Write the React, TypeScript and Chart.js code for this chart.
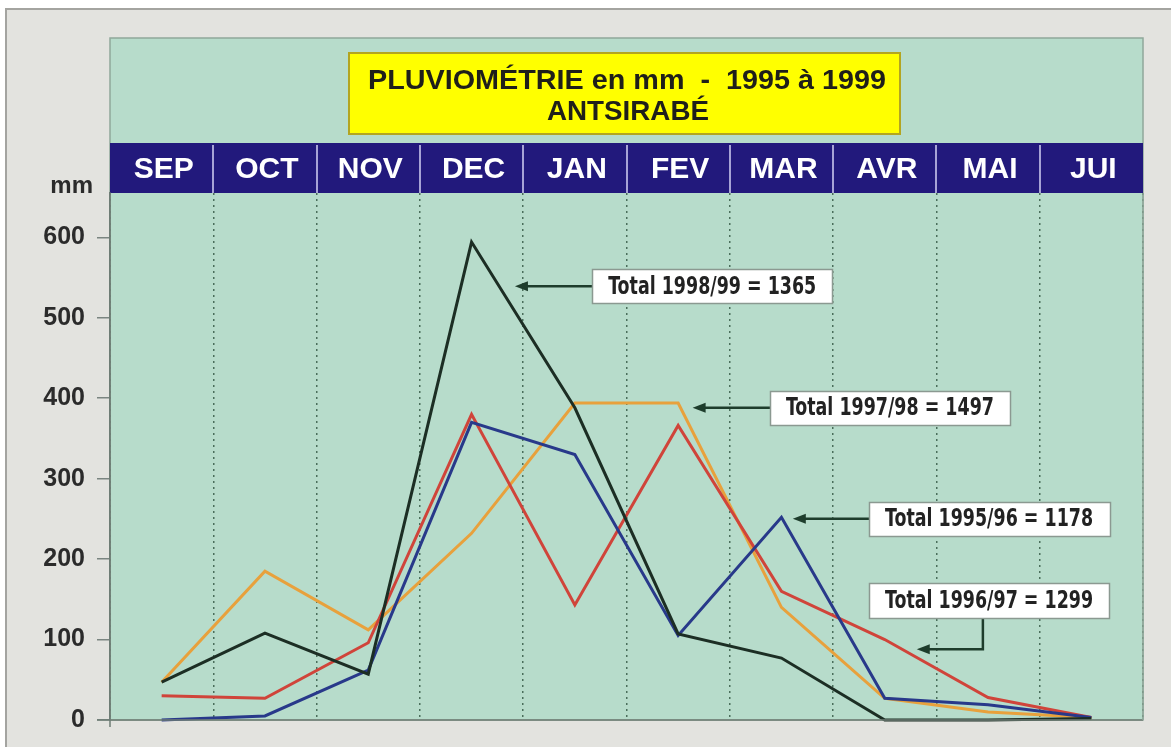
import React, { useEffect, useRef } from 'react';
import { Chart, registerables } from 'chart.js';

Chart.register(...registerables);

const MONTHS = ['SEP', 'OCT', 'NOV', 'DEC', 'JAN', 'FEV', 'MAR', 'AVR', 'MAI', 'JUI'];
const RAIN_1998_99 = [47, 108, 57, 594, 388, 107, 77, 0, 0, 2];
const RAIN_1995_96 = [0, 5, 62, 370, 330, 105, 252, 27, 19, 3];
const RAIN_1996_97 = [30, 27, 96, 380, 143, 366, 160, 100, 28, 3];
const RAIN_1997_98 = [47, 185, 112, 232, 394, 394, 140, 27, 10, 3];
const Y_TICKS = [0, 100, 200, 300, 400, 500, 600];
const TOTAL_LABELS = ['Total 1998/99 = 1365', 'Total 1997/98 = 1497', 'Total 1995/96 = 1178', 'Total 1996/97 = 1299'];
const TITLE_LINES = ['PLUVIOMÉTRIE en mm  -  1995 à 1999', 'ANTSIRABÉ'];

const W = 1171;
const H = 747;
const TEAL = '#b7dccb';
const GRAY = '#e3e3df';
const NAVY = '#22197c';

// annotation layout (index / value space of the scales)
const ANNOTS = [
  { text: TOTAL_LABELS[0], cx: 5.33, cy: 539, w: 240, h: 34, tipX: 3.42, tipY: 539, bend: null as null | { x: number; y: number } },
  { text: TOTAL_LABELS[1], cx: 7.05, cy: 388, w: 240, h: 34, tipX: 5.14, tipY: 388, bend: null },
  { text: TOTAL_LABELS[2], cx: 8.01, cy: 250, w: 241, h: 34, tipX: 6.11, tipY: 250, bend: null },
  { text: TOTAL_LABELS[3], cx: 8.01, cy: 149, w: 240, h: 35, tipX: 7.31, tipY: 88, bend: { x: 7.95, y: 88 } },
];

function fitText(ctx: CanvasRenderingContext2D, text: string, cx: number, cy: number, targetW: number) {
  const m = ctx.measureText(text).width;
  const s = targetW / m;
  ctx.save();
  ctx.translate(cx, cy);
  ctx.scale(s, 1);
  ctx.textAlign = 'center';
  ctx.textBaseline = 'middle';
  ctx.fillText(text, 0, 0);
  ctx.restore();
}

function arrowHead(ctx: CanvasRenderingContext2D, fx: number, fy: number, tx: number, ty: number) {
  const ang = Math.atan2(ty - fy, tx - fx);
  const len = 13;
  const hw = 5;
  ctx.beginPath();
  ctx.moveTo(tx, ty);
  ctx.lineTo(tx - len * Math.cos(ang) + hw * Math.sin(ang), ty - len * Math.sin(ang) - hw * Math.cos(ang));
  ctx.lineTo(tx - len * Math.cos(ang) - hw * Math.sin(ang), ty - len * Math.sin(ang) + hw * Math.cos(ang));
  ctx.closePath();
  ctx.fill();
}

const decorPlugin = {
  id: 'decor',
  beforeDraw(chart: any) {
    const { ctx, chartArea: ca, scales } = chart;
    const xs = scales.x;
    ctx.save();
    ctx.fillStyle = '#ffffff';
    ctx.fillRect(0, 0, W, H);
    ctx.fillStyle = GRAY;
    ctx.fillRect(5, 8, W - 5, H - 8);
    ctx.strokeStyle = '#a4a4a0';
    ctx.lineWidth = 2;
    ctx.beginPath();
    ctx.moveTo(5, 9);
    ctx.lineTo(W, 9);
    ctx.moveTo(6, 8);
    ctx.lineTo(6, H);
    ctx.stroke();

    // teal panel
    const tealTop = 38;
    ctx.fillStyle = TEAL;
    ctx.fillRect(ca.left, tealTop, ca.right - ca.left, ca.bottom - tealTop);
    ctx.strokeStyle = '#90a89b';
    ctx.lineWidth = 1.5;
    ctx.strokeRect(ca.left, tealTop, ca.right - ca.left, ca.bottom - tealTop);

    // title box
    ctx.fillStyle = '#ffff00';
    ctx.fillRect(349, 53, 551, 81);
    ctx.strokeStyle = '#b3a520';
    ctx.lineWidth = 2;
    ctx.strokeRect(349, 53, 551, 81);
    ctx.fillStyle = '#1f1f1a';
    ctx.font = "bold 28px 'Liberation Sans', Arial, sans-serif";
    fitText(ctx, TITLE_LINES[0], 627, 81, 518);
    fitText(ctx, TITLE_LINES[1], 628, 112, 162);

    // month header bar
    ctx.fillStyle = NAVY;
    ctx.fillRect(xs.left, xs.top, xs.right - xs.left, xs.bottom - xs.top);
    ctx.strokeStyle = 'rgba(190,188,230,0.85)';
    ctx.lineWidth = 2;
    for (let i = 1; i < MONTHS.length; i++) {
      const px = Math.round((xs.getPixelForTick(i - 1) + xs.getPixelForTick(i)) / 2);
      ctx.beginPath();
      ctx.moveTo(px, xs.top + 2);
      ctx.lineTo(px, xs.bottom);
      ctx.stroke();
    }
    ctx.fillStyle = '#ffffff';
    ctx.font = "bold 30px 'Liberation Sans', Arial, sans-serif";
    ctx.textAlign = 'center';
    ctx.textBaseline = 'middle';
    MONTHS.forEach((m, i) => {
      ctx.fillText(m, xs.getPixelForTick(i) + 2, (xs.top + xs.bottom) / 2 + 2);
    });

    // unit label
    ctx.fillStyle = '#2b2b2b';
    ctx.font = "bold 24px 'Liberation Sans', Arial, sans-serif";
    ctx.textAlign = 'right';
    ctx.fillText('mm', 93, 186);
    ctx.restore();
  },
  afterDraw(chart: any) {
    const { ctx, chartArea: ca, scales } = chart;
    const xs = scales.x;
    const ys = scales.y;
    ctx.save();
    // axes lines
    ctx.strokeStyle = '#6f7d76';
    ctx.lineWidth = 1.5;
    ctx.beginPath();
    ctx.moveTo(97, ca.bottom);
    ctx.lineTo(ca.right, ca.bottom);
    ctx.moveTo(ca.left, ca.top);
    ctx.lineTo(ca.left, ca.bottom + 7);
    ctx.stroke();
    ctx.strokeStyle = '#90a89b';
    ctx.beginPath();
    ctx.moveTo(ca.right, ca.top);
    ctx.lineTo(ca.right, ca.bottom);
    ctx.stroke();

    // annotations
    ANNOTS.forEach((a) => {
      const cx = xs.getPixelForValue(a.cx);
      const cy = ys.getPixelForValue(a.cy);
      const left = Math.round(cx - a.w / 2);
      const top = Math.round(cy - a.h / 2);
      const tipX = xs.getPixelForValue(a.tipX);
      const tipY = ys.getPixelForValue(a.tipY);
      ctx.strokeStyle = '#1e3d2c';
      ctx.fillStyle = '#1e3d2c';
      ctx.lineWidth = 2.5;
      ctx.beginPath();
      let fx: number, fy: number;
      if (a.bend) {
        const bx = xs.getPixelForValue(a.bend.x);
        const by = ys.getPixelForValue(a.bend.y);
        ctx.moveTo(bx, top + a.h);
        ctx.lineTo(bx, by);
        ctx.lineTo(tipX + 8, tipY);
        fx = bx;
        fy = by;
      } else {
        ctx.moveTo(left, cy);
        ctx.lineTo(tipX + 8, tipY);
        fx = left;
        fy = cy;
      }
      ctx.stroke();
      arrowHead(ctx, fx, fy, tipX, tipY);

      ctx.fillStyle = '#ffffff';
      ctx.fillRect(left, top, a.w, a.h);
      ctx.strokeStyle = '#8b9991';
      ctx.lineWidth = 1.5;
      ctx.strokeRect(left + 0.5, top + 0.5, a.w, a.h);
      ctx.fillStyle = '#222222';
      ctx.font = "bold 25px 'Liberation Sans Narrow', 'DejaVu Sans Condensed', 'Liberation Sans', sans-serif";
      fitText(ctx, a.text, cx, cy + 1, 208);
    });
    ctx.restore();
  },
};

export default function App() {
  const ref = useRef<HTMLCanvasElement | null>(null);
  useEffect(() => {
    if (!ref.current) return;
    const common = { borderWidth: 3, pointRadius: 0, tension: 0, fill: false, clip: false as any };
    const chart = new Chart(ref.current, {
      type: 'line',
      data: {
        labels: MONTHS,
        datasets: [
          { label: '1998/99', data: RAIN_1998_99, borderColor: '#1c2e24', ...common },
          { label: '1995/96', data: RAIN_1995_96, borderColor: '#28398a', ...common },
          { label: '1996/97', data: RAIN_1996_97, borderColor: '#d0443a', ...common },
          { label: '1997/98', data: RAIN_1997_98, borderColor: '#e8a13c', ...common },
        ],
      },
      options: {
        animation: false,
        responsive: false,
        devicePixelRatio: 1,
        layout: { padding: { top: 143, right: 28, bottom: 27, left: 0 } },
        plugins: { legend: { display: false }, tooltip: { enabled: false }, title: { display: false } },
        scales: {
          x: {
            type: 'category',
            position: 'top',
            offset: true,
            afterFit: (s: any) => { s.height = 50; },
            ticks: { display: false },
            grid: { offset: true, drawTicks: false, color: 'rgba(55,90,72,0.85)', lineWidth: 1.5 },
            border: { display: false, dash: [2, 4] },
          },
          y: {
            min: 0,
            max: 655,
            afterBuildTicks: (s: any) => { s.ticks = Y_TICKS.map((v) => ({ value: v })); },
            afterFit: (s: any) => { s.width = 110; },
            grid: { drawOnChartArea: false, drawTicks: true, tickLength: 13, color: '#7a8580', lineWidth: 1.5 },
            border: { display: true, color: '#6f7d76', width: 1.5 },
            ticks: { padding: 12, color: '#2b2b2b', font: { family: "'Liberation Sans', Arial, sans-serif", size: 25, weight: 'bold' } },
          },
        },
      },
      plugins: [decorPlugin],
    });
    return () => chart.destroy();
  }, []);
  return (
    <div style={{ position: 'absolute', left: 0, top: 0, width: W, height: H }}>
      <canvas ref={ref} width={W} height={H} style={{ display: 'block' }} />
    </div>
  );
}
